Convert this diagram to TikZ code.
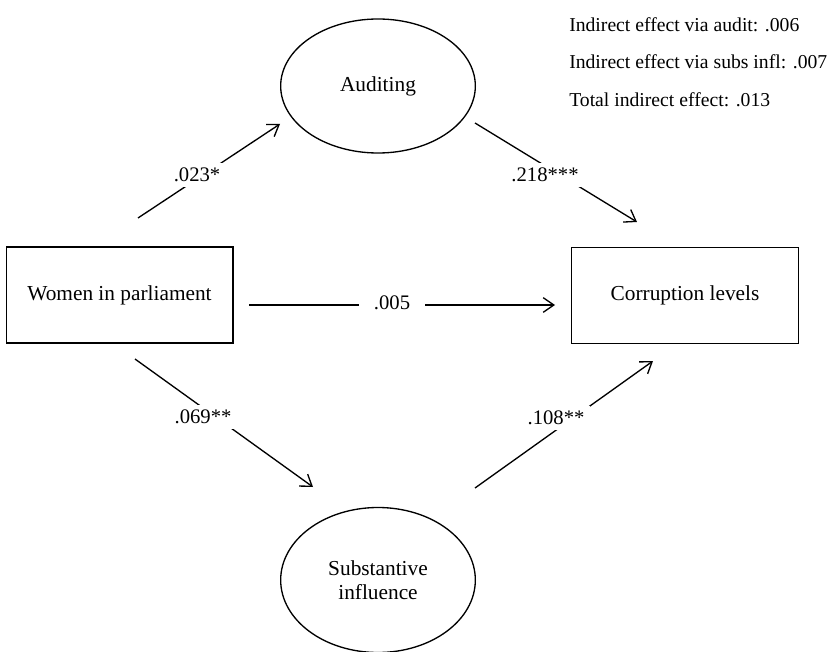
\documentclass[tikz,border=0pt]{standalone}
\usepackage{fontspec}
\setmainfont{Liberation Serif}
\usetikzlibrary{shapes.geometric,arrows.meta}

\begin{document}
\begin{tikzpicture}[
		x=0.75pt,y=-0.75pt,
		box/.style={draw,line width=1pt,minimum width=170pt,minimum height=72pt,font=\fontsize{16}{18}\selectfont},
		latent/.style={draw,ellipse,line width=1pt,minimum width=146pt,align=center,font=\fontsize{16}{18}\selectfont},
		path/.style={line width=1pt,-{Straight Barb[length=8pt,width=11pt]}},
		coef/.style={fill=white,inner sep=4pt,font=\fontsize{15.5}{18}\selectfont},
		note/.style={anchor=west,inner sep=0pt,font=\fontsize{14.75}{17}\selectfont}
		]
		\useasboundingbox (0,0) rectangle (835,652);
		
		\node[box] (wom) at (119.5,295) {Women in parliament};
		\node[box] (cor) at (685,295.5) {Corruption levels};
		\node[latent,minimum height=100.5pt] (aud) at (378,86) {Auditing};
		\node[latent,minimum height=108.75pt] (sub) at (378,580) {Substantive\\influence};
		
		% ends of the paths
		\coordinate (wa0) at (138,218); \coordinate (wa1) at (280,124);
		\coordinate (ac0) at (475,123); \coordinate (ac1) at (637,222);
		\coordinate (ws0) at (135,359); \coordinate (ws1) at (313,487);
		\coordinate (sc0) at (475,488); \coordinate (sc1) at (653,361);
		\coordinate (wc0) at (249,305); \coordinate (wc1) at (555,305);
		
		\foreach \p/\v/\x/\y in {wa/.023*/197/175, ac/.218***/545/175, ws/.069**/203/417, sc/.108**/556/418} {
			\draw[path] (\p0) -- (\p1);
			\node[coef] (k\p) at (\x,\y) {\v};
		}
		\draw[path] (wc0) -- (wc1);
		\node[coef,inner xsep=11pt] (kwc) at (392,303) {.005};
		
		% effects
		\node[note] (n1) at (569,25) {Indirect effect via audit: .006};
		\node[note] (n2) at (569,62) {Indirect effect via subs infl: .007};
		\node[note] (n3) at (569,100) {Total indirect effect: .013};
%		\draw[help lines] (0,0) grid (835,652);
	\end{tikzpicture}
\end{document}
